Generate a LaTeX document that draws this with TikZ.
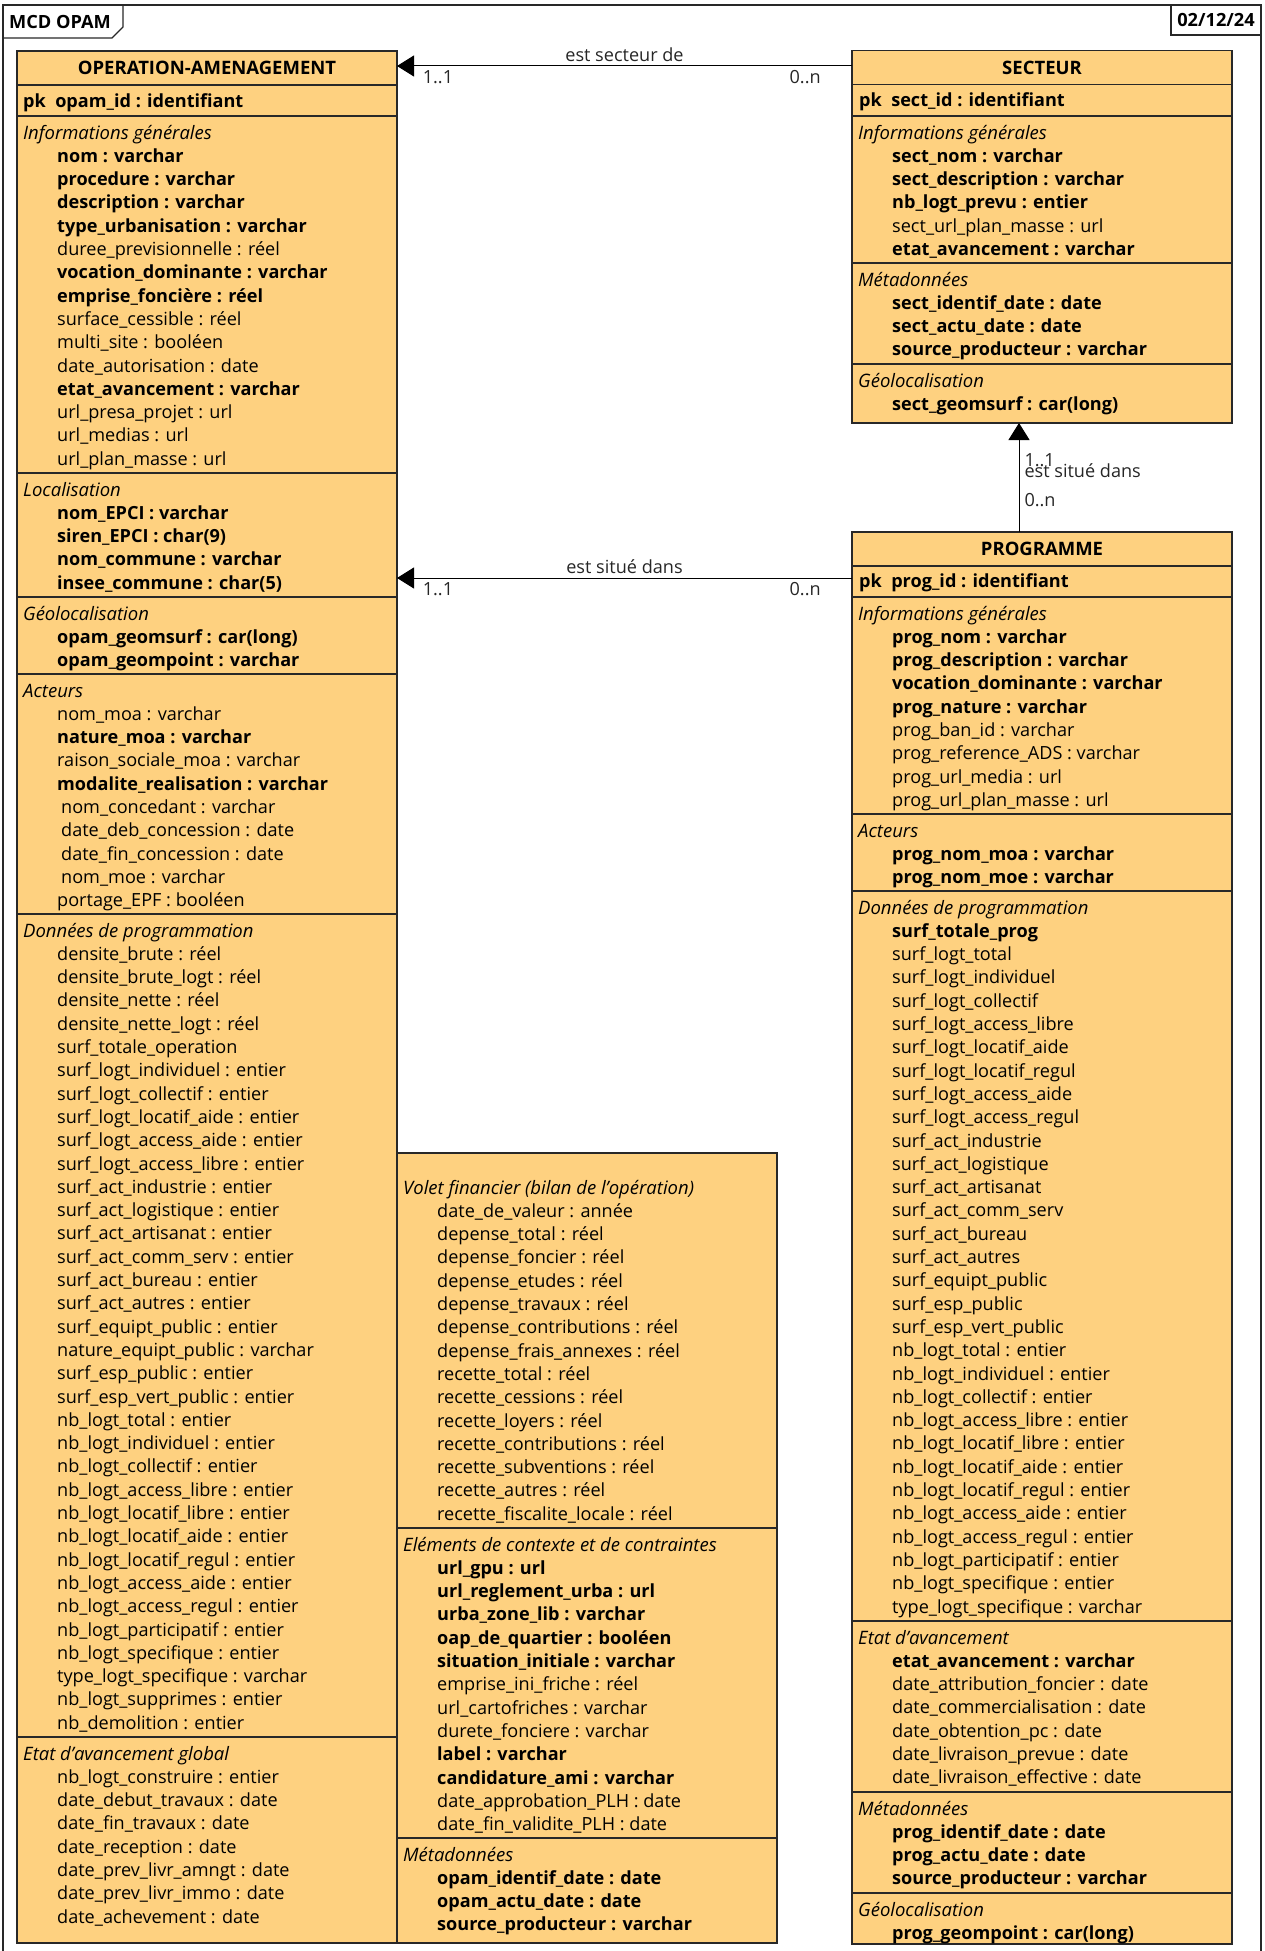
\documentclass[tikz,border=0pt]{standalone}
\usepackage{fontspec}
\setmainfont{Open Sans}
\usetikzlibrary{arrows.meta}
\definecolor{classfill}{RGB}{254,209,128}
\definecolor{framegray}{RGB}{40,40,40}

% one group of a class: name, left x, top y, title, attribute lines
\newcommand{\attrgroup}[5]{%
  \node[grptitle] (#1) at (#2+6,#3+23) {#4};
  \foreach \t [count=\i] in {#5}
    \node[attrline] (#1-\i) at (#2+40,{#3+23+\i*23.3}) {\t};
}

\begin{document}
\catcode`\_=12
\begin{tikzpicture}[x=1pt,y=-1pt,
    font=\fontsize{18.1}{22}\selectfont,
    classbox/.style={draw=framegray,line width=1.3pt,fill=classfill},
    sepline/.style={draw=framegray,line width=1.3pt},
    classhead/.style={draw=framegray,line width=1.3pt,fill=classfill,minimum width=380pt,
      minimum height=34pt,inner sep=0pt,font=\fontsize{18.5}{22}\selectfont\bfseries},
    grptitle/.style={anchor=base west,inner sep=0pt,font=\fontsize{18.5}{22}\selectfont\itshape},
    attrline/.style={anchor=base west,inner sep=0pt},
    tagtext/.style={font=\fontsize{18.2}{22}\selectfont\bfseries},
    assoc/.style={draw=black,line width=1pt,-{Triangle[length=17pt,width=21pt]}},
    card/.style={inner sep=1pt,text=black!85}]
\useasboundingbox (0,0) rectangle (1264,1951);

% frame and tags
\draw[framegray,line width=1.3pt] (3,1951) -- (3,5) -- (1261,5) -- (1261,1951);
\draw[framegray,line width=1.3pt] (3,38) -- (112,38) -- (123,27) -- (123,5);
\node[tagtext] (tag) at (60,22) {MCD OPAM};
\draw[framegray,line width=1.3pt] (1171,5) -- (1171,35) -- (1261,35);
\node[tagtext] (datetag) at (1216,20) {02/12/24};

% OPERATION-AMENAGEMENT
\draw[classbox] (17,51) rectangle (397,1943);
\node[classhead] (opam) at (207,68) {OPERATION-AMENAGEMENT};
\foreach \y in {116,473,597,674,914,1737}
  \draw[sepline] (17,\y) -- (397,\y);
\node[attrline] (opam-pk) at (23,107.5) {\textbf{pk\ \ opam_id : identifiant}};
\attrgroup{opam-info}{17}{116}{Informations générales}{
  \textbf{nom : varchar}, \textbf{procedure : varchar}, \textbf{description : varchar},
  \textbf{type_urbanisation : varchar}, duree_previsionnelle : réel,
  \textbf{vocation_dominante : varchar}, \textbf{emprise_foncière : réel},
  surface_cessible : réel, multi_site : booléen, date_autorisation : date,
  \textbf{etat_avancement : varchar}, url_presa_projet : url, url_medias : url,
  url_plan_masse : url}
\attrgroup{opam-loc}{17}{473}{Localisation}{
  \textbf{nom_EPCI : varchar}, \textbf{siren_EPCI : char(9)},
  \textbf{nom_commune : varchar}, \textbf{insee_commune : char(5)}}
\attrgroup{opam-geo}{17}{597}{Géolocalisation}{
  \textbf{opam_geomsurf : car(long)}, \textbf{opam_geompoint : varchar}}
\attrgroup{opam-act}{17}{674}{Acteurs}{
  nom_moa : varchar, \textbf{nature_moa : varchar}, raison_sociale_moa : varchar,
  \textbf{modalite_realisation : varchar}, \hspace{4pt}nom_concedant : varchar,
  \hspace{4pt}date_deb_concession : date, \hspace{4pt}date_fin_concession : date,
  \hspace{4pt}nom_moe : varchar, portage_EPF : booléen}
\attrgroup{opam-prog}{17}{914}{Données de programmation}{
  densite_brute : réel, densite_brute_logt : réel, densite_nette : réel,
  densite_nette_logt : réel, surf_totale_operation, surf_logt_individuel : entier,
  surf_logt_collectif : entier, surf_logt_locatif_aide : entier,
  surf_logt_access_aide : entier, surf_logt_access_libre : entier,
  surf_act_industrie : entier, surf_act_logistique : entier,
  surf_act_artisanat : entier, surf_act_comm_serv : entier, surf_act_bureau : entier,
  surf_act_autres : entier, surf_equipt_public : entier, nature_equipt_public : varchar,
  surf_esp_public : entier, surf_esp_vert_public : entier, nb_logt_total : entier,
  nb_logt_individuel : entier, nb_logt_collectif : entier, nb_logt_access_libre : entier,
  nb_logt_locatif_libre : entier, nb_logt_locatif_aide : entier,
  nb_logt_locatif_regul : entier, nb_logt_access_aide : entier,
  nb_logt_access_regul : entier, nb_logt_participatif : entier,
  nb_logt_specifique : entier, type_logt_specifique : varchar,
  nb_logt_supprimes : entier, nb_demolition : entier}
\attrgroup{opam-etat}{17}{1737}{Etat d’avancement global}{
  nb_logt_construire : entier, date_debut_travaux : date, date_fin_travaux : date,
  date_reception : date, date_prev_livr_amngt : date, date_prev_livr_immo : date,
  date_achevement : date}

% OPERATION-AMENAGEMENT, second column
\draw[classbox] (397,1153) rectangle (777,1943);
\foreach \y in {1528,1838}
  \draw[sepline] (397,\y) -- (777,\y);
\attrgroup{opam-fin}{397}{1171}{Volet financier (bilan de l’opération)}{
  date_de_valeur : année, depense_total : réel, depense_foncier : réel,
  depense_etudes : réel, depense_travaux : réel, depense_contributions : réel,
  depense_frais_annexes : réel, recette_total : réel, recette_cessions : réel,
  recette_loyers : réel, recette_contributions : réel, recette_subventions : réel,
  recette_autres : réel, recette_fiscalite_locale : réel}
\attrgroup{opam-ctx}{397}{1528}{Eléments de contexte et de contraintes}{
  \textbf{url_gpu : url}, \textbf{url_reglement_urba : url},
  \textbf{urba_zone_lib : varchar}, \textbf{oap_de_quartier : booléen},
  \textbf{situation_initiale : varchar}, emprise_ini_friche : réel,
  url_cartofriches : varchar, durete_fonciere : varchar, \textbf{label : varchar},
  \textbf{candidature_ami : varchar}, date_approbation_PLH : date,
  date_fin_validite_PLH : date}
\attrgroup{opam-meta}{397}{1838}{Métadonnées}{
  \textbf{opam_identif_date : date}, \textbf{opam_actu_date : date},
  \textbf{source_producteur : varchar}}

% SECTEUR
\draw[classbox] (852,51) rectangle (1232,423);
\node[classhead] (sect) at (1042,67.5) {SECTEUR};
\foreach \y in {116,263,364}
  \draw[sepline] (852,\y) -- (1232,\y);
\node[attrline] (sect-pk) at (859,106.5) {\textbf{pk\ \ sect_id : identifiant}};
\attrgroup{sect-info}{852}{116}{Informations générales}{
  \textbf{sect_nom : varchar}, \textbf{sect_description : varchar},
  \textbf{nb_logt_prevu : entier}, sect_url_plan_masse : url,
  \textbf{etat_avancement : varchar}}
\attrgroup{sect-meta}{852}{263}{Métadonnées}{
  \textbf{sect_identif_date : date}, \textbf{sect_actu_date : date},
  \textbf{source_producteur : varchar}}
\attrgroup{sect-geo}{852}{364}{Géolocalisation}{
  \textbf{sect_geomsurf : car(long)}}

% PROGRAMME
\draw[classbox] (852,532) rectangle (1232,1944);
\node[classhead] (prog) at (1042,549) {PROGRAMME};
\foreach \y in {597,814,891,1621,1792,1893}
  \draw[sepline] (852,\y) -- (1232,\y);
\node[attrline] (prog-pk) at (859,587.5) {\textbf{pk\ \ prog_id : identifiant}};
\attrgroup{prog-info}{852}{597}{Informations générales}{
  \textbf{prog_nom : varchar}, \textbf{prog_description : varchar},
  \textbf{vocation_dominante : varchar}, \textbf{prog_nature : varchar},
  prog_ban_id : varchar, prog_reference_ADS : varchar, prog_url_media : url,
  prog_url_plan_masse : url}
\attrgroup{prog-act}{852}{814}{Acteurs}{
  \textbf{prog_nom_moa : varchar}, \textbf{prog_nom_moe : varchar}}
\attrgroup{prog-prog}{852}{891}{Données de programmation}{
  \textbf{surf_totale_prog}, surf_logt_total, surf_logt_individuel,
  surf_logt_collectif, surf_logt_access_libre, surf_logt_locatif_aide,
  surf_logt_locatif_regul, surf_logt_access_aide, surf_logt_access_regul,
  surf_act_industrie, surf_act_logistique, surf_act_artisanat, surf_act_comm_serv,
  surf_act_bureau, surf_act_autres, surf_equipt_public, surf_esp_public,
  surf_esp_vert_public, nb_logt_total : entier, nb_logt_individuel : entier,
  nb_logt_collectif : entier, nb_logt_access_libre : entier,
  nb_logt_locatif_libre : entier, nb_logt_locatif_aide : entier,
  nb_logt_locatif_regul : entier, nb_logt_access_aide : entier,
  nb_logt_access_regul : entier, nb_logt_participatif : entier,
  nb_logt_specifique : entier, type_logt_specifique : varchar}
\attrgroup{prog-etat}{852}{1621}{Etat d’avancement}{
  \textbf{etat_avancement : varchar}, date_attribution_foncier : date,
  date_commercialisation : date, date_obtention_pc : date,
  date_livraison_prevue : date, date_livraison_effective : date}
\attrgroup{prog-meta}{852}{1792}{Métadonnées}{
  \textbf{prog_identif_date : date}, \textbf{prog_actu_date : date},
  \textbf{source_producteur : varchar}}
\attrgroup{prog-geo}{852}{1893}{Géolocalisation}{
  \textbf{prog_geompoint : car(long)}}

% associations
\coordinate (sect-link) at (852,66);
\coordinate (opam-top) at (397,66);
\coordinate (prog-link) at (852,578);
\coordinate (opam-loc-link) at (397,578);
\coordinate (prog-top) at (1019,532);
\coordinate (sect-bottom) at (1019,423);
\draw[assoc] (sect-link) -- node[card,above=3pt] (a1) {est secteur de}
  node[card,pos=0.103,below=3pt] (a1-n) {0..n}
  node[card,pos=0.91,below=3pt] (a1-1) {1..1} (opam-top);
\draw[assoc] (prog-link) -- node[card,above=3pt] (a2) {est situé dans}
  node[card,pos=0.103,below=3pt] (a2-n) {0..n}
  node[card,pos=0.91,below=3pt] (a2-1) {1..1} (opam-loc-link);
\draw[assoc] (prog-top) --
  node[card,pos=0.29,anchor=west,xshift=4pt] (a3-n) {0..n}
  node[card,pos=0.56,anchor=west,xshift=4pt] (a3) {est situé dans}
  node[card,pos=0.66,anchor=west,xshift=4pt] (a3-1) {1..1} (sect-bottom);
\end{tikzpicture}
\end{document}
